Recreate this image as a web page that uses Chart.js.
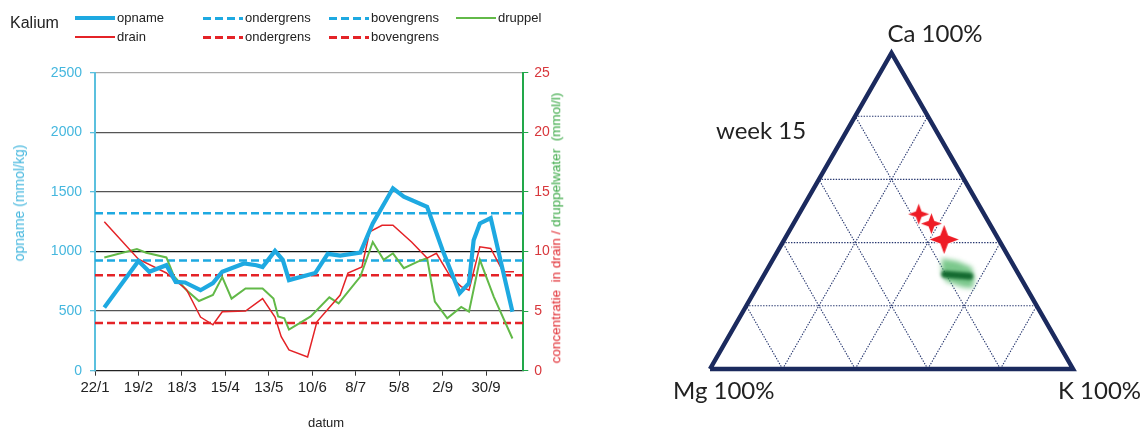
<!DOCTYPE html>
<html>
<head>
<meta charset="utf-8">
<script src="https://cdn.jsdelivr.net/npm/chart.js"></script>
<style>
  body{margin:0;width:1144px;height:432px;background:#fff;overflow:hidden;position:relative;font-family:'Liberation Sans',Arial,sans-serif;color:#222}
  canvas{position:absolute;top:0}
  #kal{left:0}
  #tern{left:600px}
  .t{position:absolute;white-space:nowrap;line-height:1}
  .lg{position:absolute;font-size:13px;line-height:1;white-space:nowrap}
  .ln{position:absolute;width:40px}
  .rot{transform:translate(-50%,-50%) rotate(-90deg)}
  .tern{font-family:Lato,'Open Sans',sans-serif;font-size:24px;color:#222}
</style>
</head>
<body>
<canvas id="kal" width="600" height="432"></canvas>
<canvas id="tern" width="544" height="432"></canvas>

<div class="t" style="left:10px;top:15px;font-size:16px">Kalium</div>
<div id="legend"></div>

<div class="t rot" style="left:19px;top:203px;font-size:14px;color:#45b7de">opname (mmol/kg)</div>
<div class="t rot" style="left:556px;top:228px;font-size:13.5px"><span style="color:#e0282e">concentratie&nbsp; in drain /</span><span style="color:#3aa845"> druppelwater&nbsp; (mmol/l)</span></div>
<div class="t" style="left:326px;top:422px;font-size:13px;transform:translate(-50%,-50%)">datum</div>

<div class="t tern" style="left:935px;top:33px;transform:translate(-50%,-50%)">Ca 100%</div>
<div class="t tern" style="left:716px;top:130px;transform:translateY(-50%)">week 15</div>
<div class="t tern" style="left:673px;top:390px;transform:translateY(-50%)">Mg 100%</div>
<div class="t tern" style="left:1058px;top:390px;transform:translateY(-50%)">K 100%</div>

<script>
// x axis: days counted from 22/1, one label every 4 weeks
const tickLabels = ['22/1','19/2','18/3','15/4','13/5','10/6','8/7','5/8','2/9','30/9'];
const tickStep = 28;
const dayMax = 276;

// opname (mmol/kg), left axis
const opnameDays   = [6, 28, 35, 46, 52, 58, 68, 76, 82, 96, 104, 108, 116, 121, 125, 142, 150, 158, 171, 179, 192, 199, 214, 224, 235, 241, 244, 248, 255, 269];
const opnameValues = [530, 920, 830, 885, 745, 740, 675, 735, 830, 900, 885, 870, 1005, 930, 760, 820, 980, 965, 990, 1235, 1530, 1460, 1375, 1010, 650, 735, 1095, 1235, 1280, 495];

// drain (mmol/l), right axis
const drainDays   = [6, 28, 46, 59, 68, 76, 82, 97, 108, 116, 120, 125, 137, 143, 158, 163, 172, 177, 185, 192, 204, 214, 220, 229, 236, 241, 248, 255, 263, 270];
const drainValues = [12.5, 9.35, 8.2, 6.8, 4.5, 3.85, 4.95, 5.0, 6.05, 4.5, 2.85, 1.75, 1.15, 4.1, 6.35, 8.2, 8.7, 11.65, 12.2, 12.2, 10.8, 9.45, 9.85, 7.9, 7.05, 6.75, 10.4, 10.25, 8.3, 8.3];

// druppel (mmol/l), right axis
const druppelDays   = [6, 27, 33, 46, 51, 59, 67, 76, 82, 88, 97, 108, 115, 118, 122, 125, 139, 151, 157, 171, 179, 186, 192, 199, 208, 214, 219, 227, 236, 241, 248, 257, 269];
const druppelValues = [9.5, 10.2, 9.9, 9.5, 7.9, 6.75, 5.85, 6.35, 7.85, 6.05, 6.9, 6.9, 6.05, 4.55, 4.4, 3.45, 4.55, 6.15, 5.65, 7.9, 10.8, 9.3, 9.85, 8.6, 9.15, 9.45, 5.8, 4.4, 5.35, 4.95, 9.3, 6.2, 2.7];

// grenzen
const opnameOnder = 925, opnameBoven = 1320;
const drainOnder = 4, drainBoven = 8;

// ternary diagram, week 15 (fractions Ca / K, Mg is the rest)
const drainCa = [0.49, 0.46, 0.41];
const drainK  = [0.33, 0.38, 0.44];
const druppelCa = [0.30];
const druppelK  = [0.535];
const gridFractions = [0.2, 0.4, 0.6, 0.8];

const BLUE = '#1ea9e1', RED = '#e42327', GREEN = '#62b948';

const pts = (xs, ys) => xs.map((x, i) => ({x: x, y: ys[i]}));
const flat = v => [{x: 0, y: v}, {x: dayMax, y: v}];

const line = (label, data, axis, color, width, dash, order) => ({
  label: label, data: data, yAxisID: axis, borderColor: color, borderWidth: width,
  borderDash: dash || [], pointRadius: 0, tension: 0, showLine: true, order: order, fill: false
});

const kalDatasets = [
  line('opname', pts(opnameDays, opnameValues), 'y', BLUE, 4.2, null, 0),
  line('drain', pts(drainDays, drainValues), 'y2', RED, 1.5, null, 1),
  line('druppel', pts(druppelDays, druppelValues), 'y2', GREEN, 2, null, 2),
  line('ondergrens', flat(opnameOnder), 'y', BLUE, 2.5, [8, 4], 3),
  line('bovengrens', flat(opnameBoven), 'y', BLUE, 2.5, [8, 4], 3),
  line('ondergrens', flat(drainOnder), 'y2', RED, 2.5, [8, 4], 3),
  line('bovengrens', flat(drainBoven), 'y2', RED, 2.5, [8, 4], 3)
];

// legend, same look as the datasets
const legendPos = [[75, 18], [75, 37], [456, 18], [203, 18], [329, 18], [203, 37], [329, 37]];
let html = '';
kalDatasets.forEach((d, i) => {
  const [lx, ly] = legendPos[i];
  const h = Math.max(2, Math.round(d.borderWidth));
  const bg = d.borderDash.length
    ? 'repeating-linear-gradient(90deg,' + d.borderColor + ' 0 8px,transparent 8px 12px)'
    : d.borderColor;
  html += '<div class="ln" style="left:' + lx + 'px;top:' + Math.round(ly - h / 2) + 'px;height:' + h + 'px;background:' + bg + '"></div>';
  html += '<div class="lg" style="left:' + (lx + 42) + 'px;top:' + (ly - 7) + 'px">' + d.label + '</div>';
});
document.getElementById('legend').innerHTML = html;

const tickFont = {family: "'Liberation Sans', Arial, sans-serif", size: 14};

new Chart(document.getElementById('kal'), {
  type: 'scatter',
  data: {datasets: kalDatasets},
  options: {
    responsive: false,
    animation: false,
    layout: {padding: {top: 72.7, left: 0, right: 0, bottom: 0}},
    plugins: {legend: {display: false}, tooltip: {enabled: false}},
    scales: {
      x: {
        type: 'linear', min: 0, max: dayMax,
        afterBuildTicks: s => { s.ticks = tickLabels.map((t, i) => ({value: i * tickStep})); },
        afterFit: s => { s.height = 61.3; },
        ticks: {callback: v => tickLabels[Math.round(v / tickStep)], color: '#222', font: {family: tickFont.family, size: 15}, padding: 3, maxRotation: 0, autoSkip: false},
        grid: {drawOnChartArea: false, tickLength: 5, tickColor: '#333'},
        border: {color: '#222', width: 1.3}
      },
      y: {
        position: 'left', min: 0, max: 2500,
        afterFit: s => { s.width = 95; },
        ticks: {stepSize: 500, callback: v => String(v), color: '#45b7de', font: tickFont, padding: 8},
        grid: {
          tickLength: 5, tickColor: '#5bc0de', lineWidth: 1.3,
          color: c => {
            const v = c.tick.value;
            if (v === 0) return 'rgba(0,0,0,0)';
            if (v === 2500) return '#aaa';
            if (v === 1000) return '#111';
            return '#555';
          }
        },
        border: {color: '#5bc0de', width: 2}
      },
      y2: {
        position: 'right', min: 0, max: 25,
        afterFit: s => { s.width = 76.7; },
        ticks: {stepSize: 5, callback: v => String(v), color: '#d8373c', font: tickFont, padding: 6},
        grid: {drawOnChartArea: false, tickLength: 5, tickColor: '#22a84a'},
        border: {color: '#22a84a', width: 2}
      }
    }
  }
});

// ---- ternary diagram ----
const H = Math.sqrt(3) / 2;
const tern = (ca, k) => ({x: k + ca / 2, y: ca * H});

function sparkle(r) {
  const c = document.createElement('canvas');
  const s = Math.ceil(2 * r + 4);
  c.width = c.height = s;
  const g = c.getContext('2d');
  const m = s / 2, k = r * 0.27;
  g.beginPath();
  g.moveTo(m, m - r); g.lineTo(m + k, m - k); g.lineTo(m + r, m); g.lineTo(m + k, m + k);
  g.lineTo(m, m + r); g.lineTo(m - k, m + k); g.lineTo(m - r, m); g.lineTo(m - k, m - k);
  g.closePath();
  g.lineWidth = 2; g.strokeStyle = '#fff'; g.stroke();
  g.fillStyle = '#ee1c25'; g.fill();
  return c;
}

function blob() {
  const c = document.createElement('canvas');
  c.width = 46; c.height = 42;
  const g = c.getContext('2d');
  g.filter = 'blur(2.5px)';
  g.fillStyle = 'rgba(100,190,120,0.85)';
  g.beginPath();
  g.moveTo(6, 5); g.lineTo(22, 8); g.lineTo(36, 14); g.lineTo(39, 25);
  g.lineTo(37, 35); g.lineTo(27, 34); g.lineTo(10, 28); g.lineTo(6, 18); g.closePath();
  g.fill();
  g.filter = 'blur(1.8px)';
  g.strokeStyle = '#146a30'; g.lineWidth = 7; g.lineCap = 'round';
  g.beginPath(); g.moveTo(9, 21); g.lineTo(34, 23); g.stroke();
  return c;
}

const seg = (a, b, color, width, dash, order) => ({
  data: [a, b], showLine: true, borderColor: color, borderWidth: width, borderDash: dash,
  pointRadius: 0, order: order, clip: false
});

const ternDatasets = [];
gridFractions.forEach(f => {
  const dot = [1.4, 1.4];
  const col = '#25356e';
  ternDatasets.push(seg({x: f / 2, y: f * H}, {x: 1 - f / 2, y: f * H}, col, 1.1, dot, 5));
  ternDatasets.push(seg({x: f, y: 0}, {x: f + (1 - f) / 2, y: (1 - f) * H}, col, 1.1, dot, 5));
  ternDatasets.push(seg({x: f, y: 0}, {x: f / 2, y: f * H}, col, 1.1, dot, 5));
});
ternDatasets.push({
  data: [{x: 0, y: 0}, {x: 1, y: 0}, {x: 0.5, y: H}, {x: 0, y: 0}],
  showLine: true, borderColor: '#1b2a5e', borderWidth: 4.5, borderJoinStyle: 'miter',
  pointRadius: 0, order: 2, clip: false
});
ternDatasets.push({
  data: druppelCa.map((ca, i) => tern(ca, druppelK[i])),
  pointStyle: blob(), pointRadius: 10, order: 1, clip: false
});
const starSizes = [10.5, 10.5, 14.5];
ternDatasets.push({
  data: drainCa.map((ca, i) => tern(ca, drainK[i])).reverse(),
  pointStyle: starSizes.map(sparkle).reverse(), pointRadius: 10, order: 0, clip: false
});

new Chart(document.getElementById('tern'), {
  type: 'scatter',
  data: {datasets: ternDatasets},
  options: {
    responsive: false,
    animation: false,
    layout: {padding: {left: 110, right: 71, top: 53, bottom: 63}},
    plugins: {legend: {display: false}, tooltip: {enabled: false}},
    scales: {
      x: {type: 'linear', min: 0, max: 1, display: false},
      y: {type: 'linear', min: 0, max: H, display: false}
    }
  }
});
</script>
</body>
</html>
